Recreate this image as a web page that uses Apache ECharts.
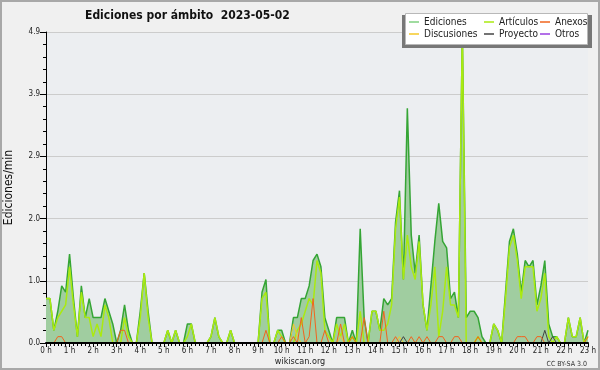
<!DOCTYPE html>
<html><head><meta charset="utf-8">
<script src="https://cdn.jsdelivr.net/npm/echarts@6/dist/echarts.min.js"></script>
<style>html,body{margin:0;padding:0;background:#f0f0f0}#c{width:600px;height:370px}</style>
</head><body><div id="c"></div>
<script>
// Tick labels
const hourLabels = ['0 h','1 h','2 h','3 h','4 h','5 h','6 h','7 h','8 h','9 h','10 h','11 h','12 h','13 h','14 h','15 h','16 h','17 h','18 h','19 h','20 h','21 h','22 h','23 h'];
const yTickLabels = ['0.0','1.0','2.0','2.9','3.9','4.9'];
const seriesNames = ['Ediciones','Artículos','Anexos','Discusiones','Proyecto','Otros'];

// Values every 10 minutes, 0:00 .. 23:00 (edits per minute)
const ediciones = [
0.7,0.7,0.2,0.5,0.9,0.8, 1.4,0.7,0.1,0.9,0.4,0.7,
0.4,0.4,0.4,0.7,0.5,0.3, 0,0.2,0.6,0.2,0,0,
0.5,1.1,0.5,0,0,0, 0,0.2,0,0.2,0,0,
0.3,0.3,0,0,0,0, 0.1,0.4,0.1,0,0,0.2,
0,0,0,0,0,0, 0,0.8,1.0,0,0,0.2,
0.2,0,0,0.4,0.4,0.7, 0.7,0.9,1.3,1.4,1.2,0.4,
0.2,0,0.4,0.4,0.4,0, 0.2,0,1.8,0.4,0,0.5,
0.5,0.2,0.7,0.6,0.7,1.9, 2.4,1.0,3.7,1.7,1.1,1.7,
0.6,0.2,0.9,1.6,2.2,1.6, 1.5,0.7,0.8,0.4,4.9,0.4,
0.5,0.5,0.4,0.1,0,0, 0.3,0.2,0,0.8,1.6,1.8,
1.4,0.8,1.3,1.2,1.3,0.6, 0.9,1.3,0.3,0.1,0.1,0,
0,0.4,0.1,0.1,0.4,0, 0.2];
const articulos = [
0.7,0.7,0.2,0.4,0.5,0.6, 1.2,0.6,0.1,0.8,0.4,0.4,
0.1,0.3,0.1,0.6,0.4,0, 0,0,0.4,0.1,0,0,
0.4,1.1,0.4,0,0,0, 0,0.2,0,0.2,0,0,
0.1,0.3,0,0,0,0, 0.1,0.4,0.1,0,0,0.2,
0,0,0,0,0,0, 0,0.7,0.8,0,0,0.2,
0.1,0,0,0,0.2,0.3, 0.5,0.7,0.6,1.3,1.1,0.2,
0.1,0,0.3,0.1,0.3,0, 0.1,0,0.5,0,0,0.5,
0.5,0.2,0.2,0.3,0.6,1.8, 2.3,1.0,1.7,1.2,1.0,1.6,
0.6,0.2,0.6,1.2,0.1,0.5, 1.2,0.6,0.6,0.4,4.9,0,
0,0,0.1,0,0,0, 0.3,0.2,0,0.7,1.5,1.7,
1.3,0.7,1.2,1.2,1.2,0.5, 0.7,1.1,0.1,0,0.1,0,
0,0.4,0.1,0.1,0.4,0, 0.1];
const anexos = [
0,0,0,0.1,0.1,0, 0,0,0,0,0,0,
0,0,0,0,0,0, 0,0.2,0.2,0,0,0,
0,0,0,0,0,0, 0,0,0,0,0,0,
0,0,0,0,0,0, 0,0,0,0,0,0,
0,0,0,0,0,0, 0,0,0.2,0,0,0,
0.1,0,0,0.1,0,0.4, 0,0.1,0.7,0,0,0.2,
0,0,0,0.3,0,0, 0.1,0,0,0.4,0,0,
0,0,0.5,0,0,0.1, 0,0,0,0.1,0,0.1,
0,0.1,0,0,0.1,0.1, 0,0,0.1,0.1,0,0,
0,0,0.1,0,0,0, 0,0,0,0,0,0,
0.1,0.1,0.1,0,0,0.1, 0.1,0,0,0,0,0,
0,0,0,0,0,0, 0.1];
const discusiones = [
0,0,0,0,0,0, 0,0,0,0,0,0,
0,0,0,0,0,0, 0,0,0,0,0,0,
0,0,0,0,0,0, 0,0,0,0,0,0,
0,0,0,0,0,0, 0,0,0,0,0,0,
0,0,0,0,0,0, 0,0,0,0,0,0,
0,0,0,0.3,0.1,0, 0,0,0,0,0,0,
0,0,0,0.1,0,0, 0,0,0,0,0,0,
0,0,0,0,0,0, 0.1,0,0,0,0,0,
0,0,0,0,0,0, 0,0,0,0,0,0,
0,0,0,0,0,0, 0,0,0,0,0,0,
0,0,0,0,0,0, 0,0,0,0,0,0,
0,0,0,0,0,0, 0];
const proyecto = [
0,0,0,0,0,0, 0,0,0,0,0,0,
0,0,0,0,0,0, 0,0,0,0,0,0,
0,0,0,0,0,0, 0,0,0,0,0,0,
0,0,0,0,0,0, 0,0,0,0,0,0,
0,0,0,0,0,0, 0,0,0,0,0,0,
0,0,0,0,0,0, 0,0,0,0,0,0,
0,0,0,0,0,0, 0,0,0,0,0,0,
0,0,0,0,0,0, 0,0.1,0,0,0,0,
0,0,0,0,0,0, 0,0,0,0,0,0,
0,0,0,0,0,0, 0,0,0,0,0,0,
0,0,0,0,0,0, 0,0.2,0,0.1,0,0,
0,0,0,0,0,0, 0];
const otros = [
0,0,0,0,0,0, 0,0,0,0,0,0,
0,0,0,0,0,0, 0,0,0,0,0,0,
0,0,0,0,0,0, 0,0,0,0,0,0,
0,0,0,0,0,0, 0,0,0,0,0,0,
0,0,0,0,0,0, 0,0,0,0,0,0,
0,0,0,0,0,0, 0,0,0,0,0,0,
0,0,0,0,0,0, 0,0,0,0,0,0,
0,0,0,0,0,0, 0,0,0,0,0,0,
0,0,0,0,0,0, 0,0,0,0,0,0,
0,0,0,0,0,0, 0,0,0,0,0,0,
0,0,0,0,0,0, 0,0,0,0,0,0,
0,0,0,0,0,0, 0];

const FONT = '"DejaVu Sans Condensed","DejaVu Sans",sans-serif';
const colors = {Ediciones:'#35a535', 'Artículos':'#aaea10', Anexos:'#f0641e', Discusiones:'#f5c828', Proyecto:'#444444', Otros:'#9a40e0'};
const pts = a => a.map((v, i) => [i, v]);
const chart = echarts.init(document.getElementById('c'), null, {renderer: 'canvas'});

function lineSeries(name, arr, width, z, extra) {
  return Object.assign({
    name: name, type: 'line', data: pts(arr), symbol: 'none', z: z,
    lineStyle: {color: colors[name], width: width},
    itemStyle: {color: colors[name]}
  }, extra || {});
}

const legendLeft = [409, 484, 540];
const legendTop = [16, 28];

chart.setOption({
  backgroundColor: '#f0f0f0',
  animation: false,
  title: {
    text: 'Ediciones por ámbito  2023-05-02', left: 85, top: 10, padding: 0,
    textStyle: {fontFamily: FONT, fontWeight: 'bold', fontSize: 12, color: '#111'}
  },
  grid: {left: 46, top: 32, width: 542, height: 311, show: true, backgroundColor: '#eceef1', borderWidth: 0,
    outerBoundsMode: 'none', containLabel: false},
  xAxis: {
    type: 'value', min: 0, max: 138, interval: 6, z: 10,
    axisLine: {lineStyle: {color: '#000', width: 2}},
    axisTick: {length: 4, lineStyle: {color: '#000'}},
    minorTick: {show: true, splitNumber: 6, length: 3, lineStyle: {color: '#000'}},
    axisLabel: {margin: 4, fontFamily: FONT, fontSize: 8, color: '#222',
      formatter: v => hourLabels[Math.round(v / 6)]},
    splitLine: {show: false}
  },
  yAxis: {
    type: 'value', min: 0, max: 4.9, interval: 0.98,
    name: 'Ediciones/min', nameLocation: 'middle', nameGap: 31,
    nameTextStyle: {fontFamily: FONT, fontSize: 12, color: '#111'},
    axisLine: {show: true, lineStyle: {color: '#000'}},
    axisTick: {show: true, length: 6, lineStyle: {color: '#000'}},
    minorTick: {show: true, splitNumber: 5, length: 3, lineStyle: {color: '#000'}},
    axisLabel: {margin: 6, fontFamily: FONT, fontSize: 8, color: '#222',
      formatter: v => yTickLabels[Math.round(v / 0.98)]},
    splitLine: {show: true, lineStyle: {color: '#cccccc', width: 1}}
  },
  legend: seriesNames.map((n, k) => ({
    data: [k === 0 ? {name: n, itemStyle: {color: '#80d080'}} : n],
    left: legendLeft[k % 3], top: legendTop[Math.floor(k / 3)], padding: 0,
    icon: 'rect', itemWidth: 10, itemHeight: 1.5, selectedMode: false, z: 20,
    textStyle: {fontFamily: FONT, fontSize: 10, color: '#222', lineHeight: 12}
  })),
  graphic: [
    {type: 'rect', silent: true, z: 0, shape: {x: 1, y: 1, width: 598, height: 368},
      style: {fill: 'none', stroke: '#a8a8a8', lineWidth: 2}},
    {type: 'rect', silent: true, z: 15, shape: {x: 402, y: 15, width: 190, height: 33},
      style: {fill: '#777777'}},
    {type: 'rect', silent: true, z: 16, shape: {x: 405.5, y: 13.5, width: 182, height: 31},
      style: {fill: '#ffffff', stroke: '#b8b8b8', lineWidth: 1}},
    {type: 'text', silent: true, z: 5, x: 300, y: 362,
      style: {text: 'wikiscan.org', fontFamily: FONT, fontSize: 9, fill: '#222', align: 'center', verticalAlign: 'middle'}},
    {type: 'text', silent: true, z: 5, x: 587, y: 364,
      style: {text: 'CC BY-SA 3.0', fontFamily: FONT, fontSize: 7, fill: '#333', align: 'right', verticalAlign: 'middle'}}
  ],
  series: [
    lineSeries('Ediciones', ediciones, 1.5, 2, {areaStyle: {color: '#a0cda0', opacity: 1}}),
    lineSeries('Artículos', articulos, 1.5, 3),
    lineSeries('Otros', otros, 1, 4),
    lineSeries('Discusiones', discusiones, 1, 4),
    lineSeries('Proyecto', proyecto, 1, 4),
    lineSeries('Anexos', anexos, 1, 5)
  ]
});
</script>
</body></html>
